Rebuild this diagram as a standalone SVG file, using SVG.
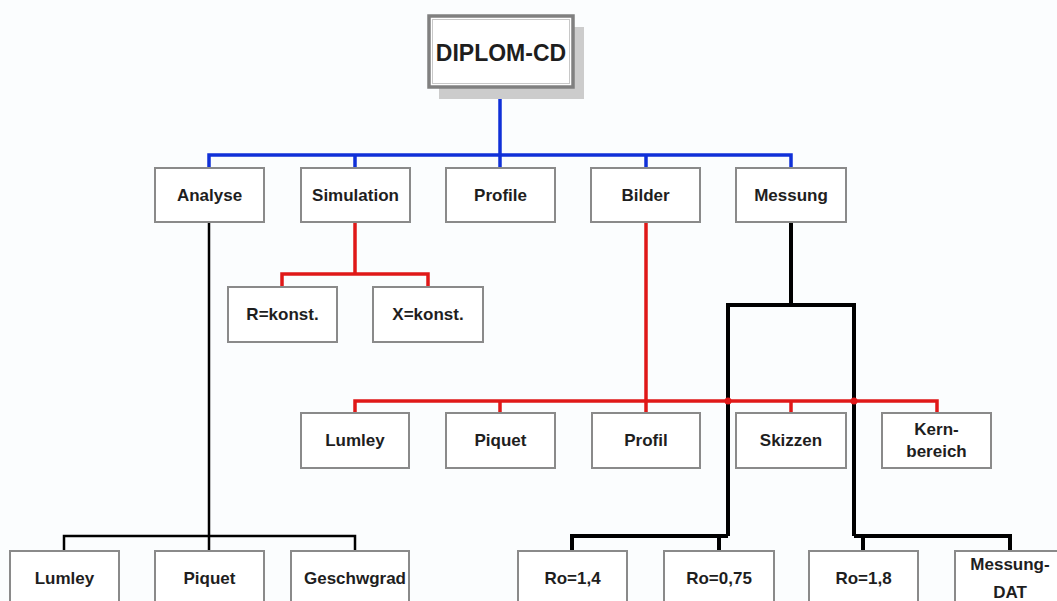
<svg xmlns="http://www.w3.org/2000/svg" width="1057" height="601" viewBox="0 0 1057 601">
<style>
.box{fill:#ffffff;stroke:#8a8a8a;stroke-width:2}
.t{font-family:"Liberation Sans",Arial,sans-serif;font-weight:bold;font-size:17px;fill:#1e1e1e;text-anchor:middle}
.blue{fill:none;stroke:#1030d8;stroke-width:3.5}
.red{fill:none;stroke:#e01818;stroke-width:3.5}
.blk{fill:none;stroke:#000;stroke-width:2.5}
.blk2{fill:none;stroke:#000;stroke-width:4}
</style>
<rect width="1057" height="601" fill="#fbfdfe"/>
<g id="connectors">
<path class="blue" d="M500 87V155M209 168V155H791V168M355 155V168M500 155V168M646 155V168"/>
<path class="red" d="M355 222V274M282 287V274H428V287"/>
<path class="red" d="M646 222V413M355 413V401H937V413M500 401V413M791 401V413"/>
<path class="blk" d="M209 222V551M64 551V536H355V551"/>
<path class="blk2" d="M791 222V305M728 536V305H854V536M572 551V536H728M719 536V551M863 536V551M854 536H1010V551"/>
<circle cx="728" cy="401" r="3.5" fill="#e01818"/>
<circle cx="854" cy="401" r="3.5" fill="#e01818"/>
</g>
<g id="root">
<rect x="439" y="27" width="145" height="72" fill="#cccccc"/>
<rect x="429" y="16" width="144" height="71" fill="#ffffff" stroke="#808080" stroke-width="3.5"/>
<rect x="432.5" y="19.5" width="137" height="64" fill="none" stroke="#c8c8c8" stroke-width="1"/>
<text class="t" x="501" y="61" style="font-size:23px">DIPLOM-CD</text>
</g>
<g id="analyse"><rect class="box" x="155" y="168" width="109" height="54"/><text class="t" x="209.5" y="201">Analyse</text></g>
<g id="simulation"><rect class="box" x="301" y="168" width="109" height="54"/><text class="t" x="355.5" y="201">Simulation</text></g>
<g id="profile"><rect class="box" x="446" y="168" width="109" height="54"/><text class="t" x="500.5" y="201">Profile</text></g>
<g id="bilder"><rect class="box" x="591" y="168" width="109" height="54"/><text class="t" x="645.5" y="201">Bilder</text></g>
<g id="messung"><rect class="box" x="736" y="168" width="110" height="54"/><text class="t" x="791" y="201">Messung</text></g>
<g id="rkonst"><rect class="box" x="228" y="287" width="109" height="55"/><text class="t" x="282.5" y="320">R=konst.</text></g>
<g id="xkonst"><rect class="box" x="373" y="287" width="110" height="55"/><text class="t" x="428" y="320">X=konst.</text></g>
<g id="lumley2"><rect class="box" x="301" y="413" width="108" height="55"/><text class="t" x="355" y="446">Lumley</text></g>
<g id="piquet2"><rect class="box" x="446" y="413" width="109" height="55"/><text class="t" x="500.5" y="446">Piquet</text></g>
<g id="profil"><rect class="box" x="592" y="413" width="108" height="55"/><text class="t" x="646" y="446">Profil</text></g>
<g id="skizzen"><rect class="box" x="736" y="413" width="110" height="55"/><text class="t" x="791" y="446">Skizzen</text></g>
<g id="kernbereich"><rect class="box" x="882" y="413" width="109" height="55"/><text class="t" x="936.5" y="435">Kern-</text><text class="t" x="936.5" y="457">bereich</text></g>
<g id="lumley1"><rect class="box" x="10" y="551" width="109" height="56"/><text class="t" x="64.5" y="584">Lumley</text></g>
<g id="piquet1"><rect class="box" x="155" y="551" width="109" height="56"/><text class="t" x="209.5" y="584">Piquet</text></g>
<g id="geschwgrad"><rect class="box" x="291" y="551" width="118" height="56"/><text class="t" x="355" y="584">Geschwgrad</text></g>
<g id="ro14"><rect class="box" x="518" y="551" width="109" height="56"/><text class="t" x="572.5" y="584">Ro=1,4</text></g>
<g id="ro075"><rect class="box" x="664" y="551" width="110" height="56"/><text class="t" x="719" y="584">Ro=0,75</text></g>
<g id="ro18"><rect class="box" x="809" y="551" width="109" height="56"/><text class="t" x="863.5" y="584">Ro=1,8</text></g>
<g id="messungdat"><rect class="box" x="955" y="551" width="110" height="56"/><text class="t" x="1010" y="570">Messung-</text><text class="t" x="1010" y="598">DAT</text></g>
</svg>
